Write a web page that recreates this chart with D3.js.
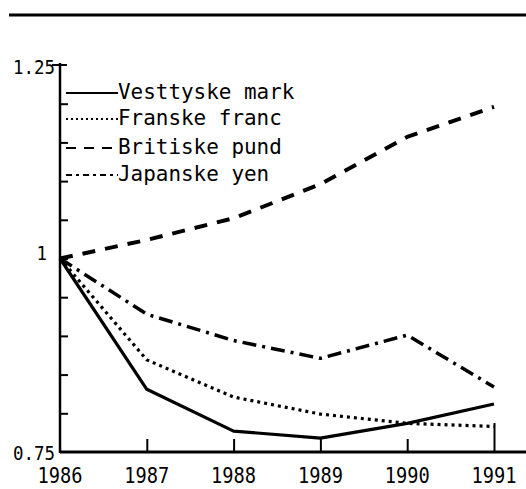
<!DOCTYPE html>
<html><head><meta charset="utf-8">
<script src="https://cdn.jsdelivr.net/npm/d3@7"></script>
<style>body{margin:0;background:#fff}svg{display:block}</style>
</head><body>
<svg id="c" width="526" height="489"></svg>
<script>
const years = [1986, 1987, 1988, 1989, 1990, 1991];
const seriesNames = ["Vesttyske mark", "Franske franc", "Britiske pund", "Japanske yen"];
const mark  = [1.0, 0.831, 0.777, 0.768, 0.787, 0.812];
const franc = [1.0, 0.869, 0.821, 0.799, 0.787, 0.783];
const pund  = [1.0, 1.024, 1.052, 1.096, 1.157, 1.196];
const yen   = [1.0, 0.928, 0.894, 0.871, 0.901, 0.834];
const yTickLabels = [0.75, 1, 1.25];
const yMinorTicks = [0.8, 0.85, 0.9, 0.95, 1.0, 1.05, 1.1, 1.15, 1.2];

const svg = d3.select("#c");
const font = "'DejaVu Sans Mono', monospace";
const x = d3.scaleLinear().domain([1986, 1991]).range([60, 494]);
const y = d3.scaleLinear().domain([0.75, 1.25]).range([452, 65]);

// top rule
svg.append("line").attr("x1", 9).attr("x2", 526).attr("y1", 15).attr("y2", 15)
  .attr("stroke", "#000").attr("stroke-width", 3);

// x axis
const xAxis = svg.append("g").attr("transform", "translate(0,452)")
  .call(d3.axisTop(x).tickValues(years.slice(1)).tickSize(13).tickFormat(""));
xAxis.select(".domain").remove();
xAxis.selectAll(".tick line").attr("stroke-width", 2)
  .attr("y2", d => d === 1991 ? -29 : -13);
svg.append("line").attr("x1", 60).attr("x2", 526).attr("y1", 452).attr("y2", 452)
  .attr("stroke", "#000").attr("stroke-width", 3);
svg.append("g").selectAll("text").data(years).join("text")
  .attr("x", d => x(d)).attr("y", 483)
  .attr("text-anchor", "middle")
  .attr("font-family", font).attr("font-size", 22)
  .attr("textLength", 45).attr("lengthAdjust", "spacingAndGlyphs")
  .text(d => d);

// y axis
svg.append("line").attr("x1", 60).attr("x2", 60).attr("y1", 63).attr("y2", 453)
  .attr("stroke", "#000").attr("stroke-width", 2.5);
const yAxis = svg.append("g").attr("transform", "translate(60,0)")
  .call(d3.axisRight(y).tickValues(yMinorTicks).tickSize(8).tickFormat(""));
yAxis.select(".domain").remove();
yAxis.selectAll(".tick line").attr("stroke-width", 2);
svg.append("line").attr("x1", 52).attr("x2", 67).attr("y1", y(1.25)).attr("y2", y(1.25))
  .attr("stroke", "#000").attr("stroke-width", 2);
svg.append("g").selectAll("text").data(yTickLabels).join("text")
  .attr("x", d => d === 1 ? 47 : 55).attr("y", d => y(d) + (d === 0.75 ? 8 : d === 1 ? 1 : 9))
  .attr("text-anchor", "end")
  .attr("font-family", font).attr("font-size", 20)
  .attr("textLength", d => String(d).length * 10.5).attr("lengthAdjust", "spacingAndGlyphs")
  .text(d => d);

// series
const styles = [
  {data: mark,  dash: null,            w: 3.2},
  {data: franc, dash: "3,4",           w: 3.2},
  {data: pund,  dash: "13,10",         w: 4},
  {data: yen,   dash: "14,6,3,6",      w: 3.5}
];
const line = d3.line().x((d, i) => x(years[i])).y(d => y(d));
styles.forEach(s => {
  svg.append("path").attr("d", line(s.data))
    .attr("fill", "none").attr("stroke", "#000")
    .attr("stroke-width", s.w)
    .attr("stroke-dasharray", s.dash)
    .attr("stroke-linejoin", "round");
});

// legend
const legY = [93, 119, 148, 175];
const legendDash = ["", "2,3", "10,8", "6,4,3,4"];
seriesNames.forEach((n, i) => {
  svg.append("line").attr("x1", 66).attr("x2", 118)
    .attr("y1", legY[i]).attr("y2", legY[i])
    .attr("stroke", "#000").attr("stroke-width", 2)
    .attr("stroke-dasharray", legendDash[i] || null);
  svg.append("text").attr("x", 118).attr("y", legY[i] + 6)
    .attr("font-family", font).attr("font-size", 21)
    .attr("textLength", n.length * 12.6).attr("lengthAdjust", "spacingAndGlyphs")
    .text(n);
});
</script>
</body></html>
